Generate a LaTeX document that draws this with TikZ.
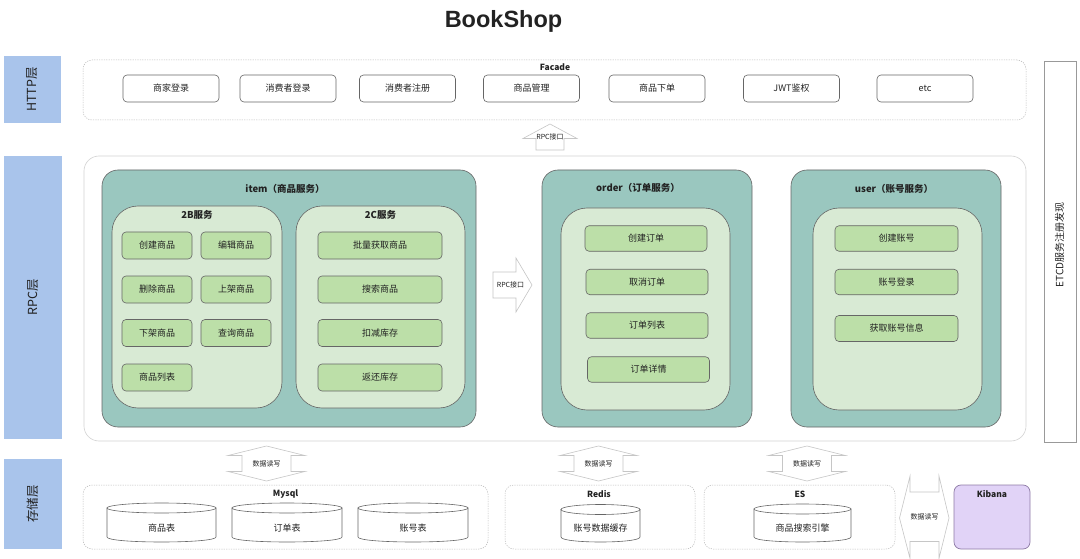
\documentclass[tikz,border=0pt]{standalone}
\usepackage{fontspec}
\setmainfont{Noto Sans CJK SC}
\newfontfamily\titlefont{Liberation Sans}
\newcommand{\fsz}[1]{\fontsize{#1}{#1}\selectfont}
\definecolor{layerblue}{HTML}{A9C4EB}
\definecolor{svcteal}{HTML}{9AC7BF}
\definecolor{innergreen}{HTML}{D8EAD4}
\definecolor{btngreen}{HTML}{BCDFA8}
\definecolor{kibfill}{HTML}{E1D3F7}
\definecolor{kibdraw}{HTML}{8E7BA6}
\definecolor{edgegray}{HTML}{666666}
\definecolor{txtgray}{HTML}{222222}
\newcommand{\dbcylinder}[6]{%
  \draw[dbline] (#2,{#4+5}) -- (#2,{#5-5}) .. controls (#2,{#5+1.667}) and (#3,{#5+1.667}) .. (#3,{#5-5}) -- (#3,{#4+5}) -- cycle;
  \draw[dbline] ({(#2+#3)/2},{#4+5}) ellipse [x radius={(#3-#2)/2}, y radius=5];
  \node[font=\fsz{9}] (#1) at ({(#2+#3)/2},{#5-14}) {#6};
}
\begin{document}
\begin{tikzpicture}[x=1pt,y=-1pt,
  every node/.style={inner sep=0pt, outer sep=0pt, text=txtgray},
  layerbox/.style={fill=layerblue, rotate=90, font=\fsz{12.5}},
  dotbox/.style={draw=gray!55, dash pattern=on 1.2pt off 1.2pt, line width=0.5pt, rounded corners=9pt},
  httpbtn/.style={draw=edgegray, fill=white, rounded corners=4pt, line width=0.6pt, minimum width=96pt, minimum height=27pt, font=\fsz{9}},
  svcbox/.style={draw=edgegray, fill=svcteal, rounded corners=16pt, line width=0.6pt},
  innerbox/.style={draw=edgegray, fill=innergreen, rounded corners=26pt, line width=0.6pt},
  itembtn/.style={draw=edgegray, fill=btngreen, rounded corners=4pt, line width=0.6pt, minimum height=27pt, font=\fsz{9}},
  heading/.style={font=\bfseries\fsz{9.5}},
  smallhead/.style={font=\bfseries\fsz{8.5}},
  blockarrow/.style={draw=gray!45, fill=white, line width=0.6pt, line join=miter},
  smalltxt/.style={font=\fsz{7}},
  dbline/.style={draw=edgegray, line width=0.6pt, fill=white},
]
\useasboundingbox[fill=white] (0,0) rectangle (1080,559);

% title
\node[font=\titlefont\bfseries\fsz{23.5}, anchor=base] (title) at (503.5,27.5) {BookShop};

% layer labels
\node[layerbox, minimum width=67pt, minimum height=57pt] (httplayer) at (32.5,89.5) {HTTP层};
\node[layerbox, minimum width=283pt, minimum height=58pt] (rpclayer) at (33,297.5) {RPC层};
\node[layerbox, minimum width=90pt, minimum height=58pt] (storelayer) at (33,504) {存储层};

% HTTP layer
\node[dotbox, minimum width=943pt, minimum height=60pt] (httpc) at (554.5,90) {};
\node[smallhead] (facade) at (555,67.5) {Facade};
\node[httpbtn] (b1) at (171,88.5) {商家登录};
\node[httpbtn] (b2) at (288,88.5) {消费者登录};
\node[httpbtn] (b3) at (407.5,88.5) {消费者注册};
\node[httpbtn] (b4) at (531.5,88.5) {商品管理};
\node[httpbtn] (b5) at (657,88.5) {商品下单};
\node[httpbtn] (b6) at (791.5,88.5) {JWT鉴权};
\node[httpbtn] (b7) at (925,88.5) {etc};

% up arrow
\draw[blockarrow] (536,150) -- (536,138.5) -- (523,138.5) -- (550,124) -- (577,138.5) -- (564,138.5) -- (564,150) -- cycle;
\node[smalltxt] (rpcup) at (550,137) {RPC接口};

% RPC container
\node[draw=gray!35, line width=0.6pt, rounded corners=15pt, minimum width=942pt, minimum height=285pt] (rpcc) at (555,298.5) {};

% item service
\node[svcbox, minimum width=374pt, minimum height=257pt] (item) at (289,298.5) {};
\node[heading] (itemtitle) at (285,189) {item（商品服务）};
\node[innerbox, minimum width=170pt, minimum height=202pt] (tob) at (197,307) {};
\node[heading] (tobtitle) at (197,215) {2B服务};
\node[innerbox, minimum width=169pt, minimum height=202pt] (toc) at (380.5,307) {};
\node[heading] (toctitle) at (380.5,215) {2C服务};

\node[itembtn, minimum width=70pt] (i1) at (157,245.5) {创建商品};
\node[itembtn, minimum width=70pt] (i2) at (236,245.5) {编辑商品};
\node[itembtn, minimum width=70pt] (i3) at (157,289.5) {删除商品};
\node[itembtn, minimum width=70pt] (i4) at (236,289.5) {上架商品};
\node[itembtn, minimum width=70pt] (i5) at (157,333) {下架商品};
\node[itembtn, minimum width=70pt] (i6) at (236,333) {查询商品};
\node[itembtn, minimum width=70pt] (i7) at (157,377.5) {商品列表};

\node[itembtn, minimum width=124pt] (c1) at (380,245.5) {批量获取商品};
\node[itembtn, minimum width=124pt] (c2) at (380,289.5) {搜索商品};
\node[itembtn, minimum width=124pt] (c3) at (380,333) {扣减库存};
\node[itembtn, minimum width=124pt] (c4) at (380,377.5) {返还库存};

% right arrow
\draw[blockarrow] (493,272) -- (516,272) -- (516,258) -- (532,285) -- (516,312) -- (516,298) -- (493,298) -- cycle;
\node[smalltxt] (rpcright) at (510.5,285) {RPC接口};

% order service
\node[svcbox, minimum width=210pt, minimum height=257pt] (order) at (647,298.5) {};
\node[heading] (ordertitle) at (638,188) {order（订单服务）};
\node[innerbox, minimum width=169pt, minimum height=202pt] (orderin) at (645.5,309) {};
\node[itembtn, minimum width=122pt, minimum height=25.5pt] (o1) at (646,238.5) {创建订单};
\node[itembtn, minimum width=122pt, minimum height=25.5pt] (o2) at (647,282) {取消订单};
\node[itembtn, minimum width=122pt, minimum height=25.5pt] (o3) at (647,325.5) {订单列表};
\node[itembtn, minimum width=122pt, minimum height=25.5pt] (o4) at (648.5,369.5) {订单详情};

% user service
\node[svcbox, minimum width=210pt, minimum height=257pt] (user) at (896,298.5) {};
\node[heading] (usertitle) at (894,189) {user（账号服务）};
\node[innerbox, minimum width=169pt, minimum height=202pt] (userin) at (897.5,309) {};
\node[itembtn, minimum width=123pt, minimum height=25.5pt] (u1) at (896.5,238.5) {创建账号};
\node[itembtn, minimum width=123pt, minimum height=25.5pt] (u2) at (896.5,282) {账号登录};
\node[itembtn, minimum width=123pt, minimum height=26pt] (u3) at (896.5,328.5) {获取账号信息};

% ETCD
\node[draw=gray!80, line width=0.6pt, minimum width=32pt, minimum height=381pt] (etcd) at (1060,251.5) {};
\node[rotate=90, font=\fsz{10}] (etcdtxt) at (1059.5,245) {ETCD服务注册发现};

% data read/write arrows
\draw[blockarrow] (266.5,446) -- (305,455.5) -- (291,455.5) -- (291,471.5) -- (305,471.5) -- (266.5,481) -- (228,471.5) -- (242,471.5) -- (242,455.5) -- (228,455.5) -- cycle;
\node[smalltxt] (rw1) at (266.5,463.5) {数据读写};
\draw[blockarrow] (598.5,446) -- (637,455.5) -- (623,455.5) -- (623,471.5) -- (637,471.5) -- (598.5,481) -- (560,471.5) -- (574,471.5) -- (574,455.5) -- (560,455.5) -- cycle;
\node[smalltxt] (rw2) at (598.5,463.5) {数据读写};
\draw[blockarrow] (807,446) -- (845.5,455.5) -- (831.5,455.5) -- (831.5,471.5) -- (845.5,471.5) -- (807,481) -- (768.5,471.5) -- (782.5,471.5) -- (782.5,455.5) -- (768.5,455.5) -- cycle;
\node[smalltxt] (rw3) at (807,463.5) {数据读写};

% storage containers
\node[dotbox, minimum width=405pt, minimum height=64pt] (mysql) at (285.5,517) {};
\node[smallhead] (mysqltxt) at (285.5,494) {Mysql};
\node[dotbox, minimum width=190pt, minimum height=64pt] (redis) at (600,517) {};
\node[smallhead] (redistxt) at (599,494) {Redis};
\node[dotbox, minimum width=191pt, minimum height=64pt] (es) at (799.5,517) {};
\node[smallhead] (estxt) at (800,494) {ES};

\dbcylinder{t1}{107}{216}{503}{542}{商品表}
\dbcylinder{t2}{232}{342}{503}{542}{订单表}
\dbcylinder{t3}{358}{468}{503}{542}{账号表}
\dbcylinder{t4}{561}{640}{504.5}{542}{账号数据缓存}
\dbcylinder{t5}{754}{851}{504}{542}{商品搜索引擎}

% ES <-> Kibana arrow
\draw[blockarrow] (899.5,518) -- (910,476) -- (910,492) -- (939,492) -- (939,476) -- (949,518) -- (939,558.5) -- (939,541.5) -- (910,541.5) -- (910,558.5) -- cycle;
\node[smalltxt] (rw4) at (924.5,517) {数据读写};

% Kibana
\node[draw=kibdraw, fill=kibfill, line width=0.7pt, rounded corners=7pt, minimum width=76pt, minimum height=64pt] (kibana) at (992,517) {};
\node[smallhead] (kibtxt) at (992,494) {Kibana};
\end{tikzpicture}
\end{document}
